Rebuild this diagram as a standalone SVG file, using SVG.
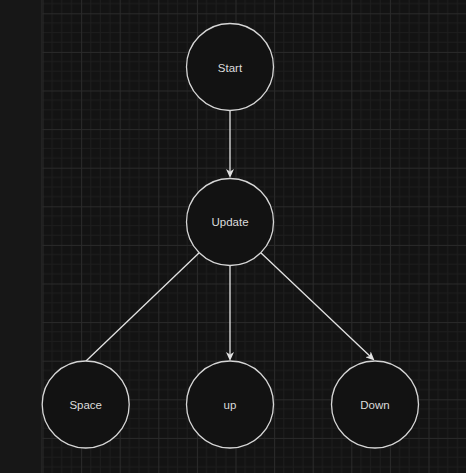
<svg xmlns="http://www.w3.org/2000/svg" width="466" height="473" viewBox="0 0 466 473">
<style>
.node circle{fill:#121212;stroke:#d6d6d6;stroke-width:1.3}
.node text{font-family:"Liberation Sans",Arial,sans-serif;font-size:11.5px;fill:#dcdcdc;text-anchor:middle}
.edge{stroke:#e2e2e2;stroke-width:1.3;fill:none}
</style>
<defs>
<pattern id="grid" patternUnits="userSpaceOnUse" x="42.5" y="13.3" width="38.6" height="38.6">
<rect width="38.6" height="38.6" fill="#131313"/>
<path d="M9.65 0V38.6M19.3 0V38.6M28.95 0V38.6M0 9.65H38.6M0 19.3H38.6M0 28.95H38.6" stroke="#1d1d1d" stroke-width="1"/>
<path d="M0.5 0V38.6M0 0.5H38.6" stroke="#2a2a2a" stroke-width="1"/>
</pattern>
<marker id="arrow" viewBox="0 0 9 8" markerWidth="9" markerHeight="8" refX="2.5" refY="4" orient="auto" markerUnits="userSpaceOnUse">
<path d="M0 0L9 4L0 8L2.5 4Z" fill="#e2e2e2"/>
</marker>
</defs>
<rect width="466" height="473" fill="url(#grid)"/>
<rect width="41" height="473" fill="#171717"/>
<rect x="41" width="1.5" height="473" fill="#222"/>
<g id="connectors">
<line class="edge" x1="230" y1="110.5" x2="230" y2="171.5" marker-end="url(#arrow)"/>
<line class="edge" x1="230" y1="265.5" x2="230" y2="354.5" marker-end="url(#arrow)"/>
<line class="edge" x1="260.8" y1="252.8" x2="369.8" y2="356" marker-end="url(#arrow)"/>
<line class="edge" x1="199.2" y1="252.8" x2="86" y2="361"/>
</g>
<g id="start" class="node"><circle cx="230" cy="67" r="43.5"/><text x="230" y="71.5">Start</text></g>
<g id="update" class="node"><circle cx="230" cy="222" r="43.5"/><text x="230" y="226">Update</text></g>
<g id="space" class="node"><circle cx="85.7" cy="404.5" r="43.5"/><text x="85.7" y="409">Space</text></g>
<g id="up" class="node"><circle cx="230" cy="404.5" r="43.5"/><text x="230" y="409">up</text></g>
<g id="down" class="node"><circle cx="375" cy="404.5" r="43.5"/><text x="375" y="409">Down</text></g>
</svg>
